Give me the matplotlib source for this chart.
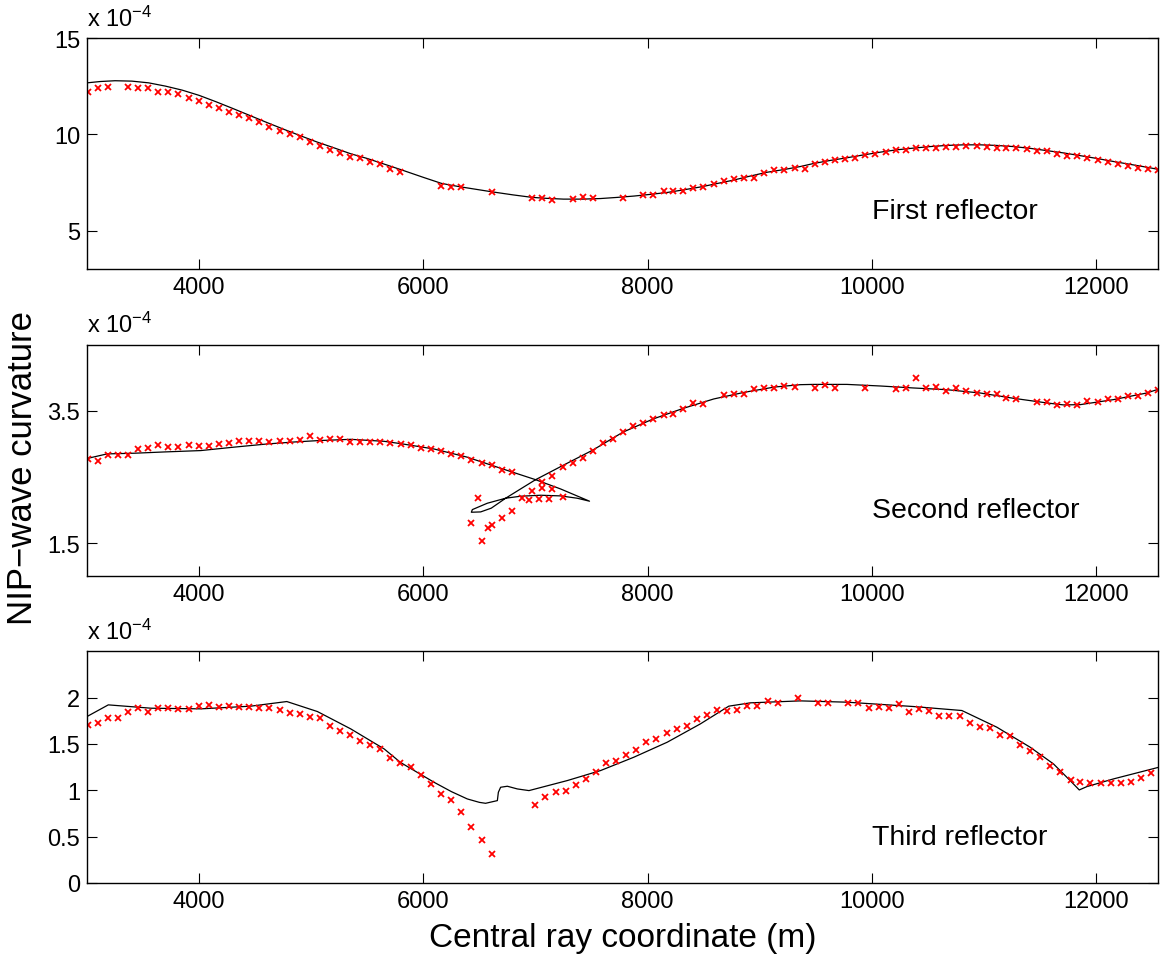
import matplotlib
matplotlib.use("Agg")
import matplotlib.pyplot as plt
from matplotlib.ticker import FuncFormatter

plt.rcParams["font.family"] = ["Liberation Sans", "DejaVu Sans"]
plt.rcParams["mathtext.fontset"] = "custom"
plt.rcParams["mathtext.rm"] = "Liberation Sans"
plt.rcParams["mathtext.it"] = "Liberation Sans"
plt.rcParams["mathtext.default"] = "regular"

# ---------------- data (units of 1e-4) ----------------
# First reflector
p1_mark_x = [3005, 3097, 3186, 3365, 3454, 3543, 3635, 3724, 3816, 3906,
             3997, 4086, 4178, 4267, 4357, 4449, 4538, 4627, 4719, 4808,
             4897, 4989, 5078, 5168, 5257, 5346, 5435, 5524, 5617, 5706, 5795,
             6160, 6250, 6339, 6611, 6971, 7061, 7150, 7331, 7420, 7509,
             7782, 7960, 8050, 8142, 8231, 8320, 8409, 8498, 8590, 8679,
             8768, 8861, 8950, 9042, 9131, 9220, 9312,
             9401, 9490, 9579, 9672, 9761, 9853, 9942, 10031, 10123, 10212,
             10301, 10390, 10483, 10572, 10661, 10753, 10842, 10934, 11023, 11112,
             11201, 11290, 11383, 11472, 11564, 11653, 11742, 11831, 11923, 12016,
             12105, 12194, 12283, 12375, 12464, 12553]
p1_mark_y = [12.22, 12.40, 12.47, 12.48, 12.41, 12.38, 12.21, 12.17, 12.09, 11.90,
             11.74, 11.53, 11.36, 11.15, 11.00, 10.84, 10.62, 10.36, 10.17, 10.00,
             9.84, 9.60, 9.39, 9.20, 9.03, 8.83, 8.79, 8.57, 8.43, 8.22, 8.05,
             7.33, 7.24, 7.27, 6.98, 6.67, 6.69, 6.60, 6.64, 6.72, 6.69,
             6.71, 6.86, 6.86, 7.07, 7.07, 7.07, 7.22, 7.27, 7.43, 7.57,
             7.67, 7.74, 7.74, 8.00, 8.12, 8.12, 8.27,
             8.22, 8.45, 8.55, 8.64, 8.71, 8.79, 8.93, 9.00, 9.09, 9.19,
             9.19, 9.26, 9.26, 9.29, 9.34, 9.34, 9.38, 9.40, 9.34, 9.28,
             9.28, 9.28, 9.24, 9.15, 9.12, 8.96, 8.88, 8.88, 8.76, 8.65,
             8.57, 8.46, 8.36, 8.27, 8.21, 8.16]
p1_line_x = [3000, 3120, 3250, 3400, 3550, 3700, 3850, 4000, 4150, 4300,
             4450, 4600, 4750, 4900, 5050, 5200, 5350, 5500, 5650, 5800,
             6000, 6160, 6250, 6339, 6611, 6800, 6971, 7100, 7250, 7420,
             7580, 7730, 7880, 8030, 8180, 8330, 8480, 8620, 8768, 8910,
             9060, 9220, 9360, 9480, 9630, 9780, 9930, 10076, 10220, 10372,
             10520, 10670, 10820, 10965, 11110, 11262, 11410, 11560, 11710, 11857,
             12010, 12160, 12300, 12450, 12560]
p1_line_y = [12.67, 12.74, 12.78, 12.76, 12.67, 12.50, 12.29, 12.02, 11.69, 11.34,
             10.98, 10.62, 10.27, 9.93, 9.60, 9.30, 8.99, 8.74, 8.45, 8.16,
             7.76, 7.45, 7.35, 7.26, 7.01, 6.85, 6.72, 6.67, 6.63, 6.63,
             6.66, 6.72, 6.79, 6.88, 6.98, 7.12, 7.27, 7.44, 7.62, 7.82,
             8.02, 8.17, 8.32, 8.48, 8.64, 8.78, 8.93, 9.07, 9.19, 9.28,
             9.36, 9.42, 9.45, 9.45, 9.42, 9.36, 9.27, 9.15, 9.03, 8.89,
             8.74, 8.58, 8.44, 8.29, 8.17]

# Second reflector
p2_mark_x = [3005, 3097, 3186, 3276, 3365, 3454, 3543, 3635, 3724, 3816,
             3906, 3997, 4086, 4178, 4267, 4357, 4449, 4538, 4627, 4719,
             4808, 4897, 4989, 5078, 5168, 5257, 5346, 5435, 5524, 5617, 5706,
             5797, 5886, 5979, 6068, 6157, 6250, 6339, 6428, 6520, 6609, 6701, 6790,
             7061, 7150, 7061, 7150, 6971, 6879, 6942, 7031, 7120, 7242,
             6490, 6428, 6520, 6579, 6609, 6701, 6790,
             7242, 7331, 7420, 7509, 7601, 7690, 7782, 7871, 7960, 8050,
             8142, 8231, 8320, 8409, 8498, 8679, 8768, 8861, 8950, 9042,
             9131, 9220, 9312,
             9490, 9583, 9672, 9942, 10212, 10301, 10390, 10483, 10572, 10661,
             10753, 10842, 10934, 11023, 11112, 11201, 11290, 11472, 11564, 11653,
             11742, 11831, 11923, 12013, 12105, 12194, 12283, 12375, 12464, 12553]
p2_mark_y = [2.77, 2.74, 2.84, 2.84, 2.84, 2.93, 2.94, 2.99, 2.96, 2.95,
             2.98, 2.97, 2.97, 3.00, 3.01, 3.05, 3.04, 3.045, 3.035, 3.04,
             3.05, 3.055, 3.12, 3.065, 3.07, 3.08, 3.03, 3.035, 3.025, 3.035, 3.02,
             3.00, 2.98, 2.94, 2.925, 2.894, 2.854, 2.823, 2.76, 2.713, 2.688, 2.60, 2.572,
             2.42, 2.51, 2.34, 2.316, 2.295, 2.184, 2.154, 2.174, 2.174, 2.195,
             2.184, 1.807, 1.54, 1.73, 1.77, 1.88, 1.98,
             2.653, 2.713, 2.79, 2.90, 3.015, 3.075, 3.18, 3.276, 3.31, 3.37,
             3.44, 3.453, 3.53, 3.62, 3.61, 3.74, 3.755, 3.75, 3.83, 3.84,
             3.846, 3.87, 3.86,
             3.84, 3.896, 3.84, 3.85, 3.83, 3.846, 3.997, 3.84, 3.86, 3.80,
             3.84, 3.795, 3.775, 3.75, 3.75, 3.695, 3.68, 3.634, 3.634, 3.584,
             3.60, 3.584, 3.65, 3.64, 3.68, 3.675, 3.73, 3.73, 3.77, 3.82]
p2_line_x = [3000, 3180, 3421, 3700, 4015, 4300, 4608, 4850, 5055, 5352,
             5650, 5797, 6095, 6392, 6689, 7001, 7224, 7482,
             7372, 7224, 7046, 6867, 6734, 6570, 6437, 6428, 6511, 6606,
             6734, 6867, 7001, 7242, 7509, 7782, 8050, 8320, 8590, 8861,
             9131, 9363, 9481, 9778, 10075, 10372, 10670, 10967, 11264, 11561,
             11710, 11858, 12155, 12452, 12560]
p2_line_y = [2.78, 2.85, 2.86, 2.88, 2.90, 2.95, 3.00, 3.03, 3.05, 3.07,
             3.04, 3.005, 2.924, 2.80, 2.633, 2.46, 2.32, 2.135,
             2.18, 2.215, 2.225, 2.21, 2.18, 2.104, 2.008, 1.968, 1.973, 2.03,
             2.18, 2.32, 2.46, 2.673, 2.905, 3.18, 3.378, 3.539, 3.68, 3.78,
             3.86, 3.896, 3.90, 3.90, 3.876, 3.846, 3.82, 3.77, 3.69, 3.62,
             3.59, 3.594, 3.67, 3.77, 3.83]

# Third reflector
p3_mark_x = [3005, 3097, 3186, 3276, 3365, 3454, 3543, 3635, 3724, 3816,
             3906, 3997, 4086, 4178, 4267, 4357, 4449, 4538, 4627, 4719,
             4808, 4897, 4989, 5078, 5168, 5257, 5346, 5435, 5524, 5617, 5706, 5795,
             5886, 5979, 6068, 6157, 6250, 6339, 6428, 6520, 6609,
             6998, 7088, 7180, 7269, 7361, 7450, 7542, 7631, 7720, 7809,
             7901, 7990, 8079, 8171, 8260, 8349, 8439, 8531, 8620, 8709,
             8801, 8890, 8979, 9072, 9161, 9339,
             9521, 9610, 9791, 9880, 9972, 10061, 10150, 10239, 10332, 10421,
             10510, 10602, 10691, 10782, 10872, 10961, 11050, 11143, 11232, 11321,
             11410, 11502, 11591, 11680, 11772, 11861, 11950, 12043, 12132, 12221,
             12310, 12402, 12491]
p3_mark_y = [1.706, 1.728, 1.782, 1.778, 1.847, 1.886, 1.847, 1.886, 1.886, 1.879,
             1.876, 1.908, 1.919, 1.904, 1.911, 1.897, 1.897, 1.886, 1.886, 1.872,
             1.832, 1.828, 1.793, 1.778, 1.692, 1.645, 1.602, 1.533, 1.49, 1.45, 1.346, 1.292,
             1.253, 1.163, 1.073, 0.961, 0.896, 0.767, 0.601, 0.464, 0.313,
             0.839, 0.925, 0.983, 0.997, 1.062, 1.123, 1.195, 1.292, 1.314, 1.382,
             1.44, 1.519, 1.552, 1.62, 1.663, 1.695, 1.768, 1.814, 1.868, 1.854,
             1.872, 1.908, 1.908, 1.962, 1.947, 1.998,
             1.94, 1.94, 1.94, 1.94, 1.886, 1.897, 1.89, 1.926, 1.847, 1.876,
             1.857, 1.803, 1.807, 1.803, 1.724, 1.685, 1.674, 1.598, 1.584, 1.49,
             1.422, 1.364, 1.267, 1.199, 1.112, 1.094, 1.08, 1.083, 1.08, 1.08,
             1.094, 1.134, 1.185]
p3_line_x = [3000, 3190, 3571, 4015, 4461, 4782, 5055, 5352, 5650, 5797,
             6095, 6250, 6392, 6500, 6555, 6660, 6669, 6689, 6749, 6838,
             6942, 7283, 7580, 7877, 8175, 8471, 8724, 8917, 9363, 9778,
             10372, 10803, 11115, 11412, 11620, 11769, 11850, 11918, 12155, 12560]
p3_line_y = [1.796, 1.922, 1.886, 1.879, 1.908, 1.958, 1.85, 1.663, 1.447, 1.30,
             1.087, 0.986, 0.907, 0.87, 0.86, 0.889, 0.979, 1.033, 1.044, 1.015,
             0.997, 1.105, 1.213, 1.357, 1.519, 1.717, 1.908, 1.944, 1.965, 1.951,
             1.904, 1.861, 1.681, 1.465, 1.285, 1.105, 1.004, 1.04, 1.123, 1.249]

x_ticks = [4000, 6000, 8000, 10000, 12000]
panel_labels = ["First reflector", "Second reflector", "Third reflector"]
panel_ylims = [(3, 15), (1, 4.5), (0, 2.5)]
panel_yticks = [[5, 10, 15], [1.5, 3.5], [0, 0.5, 1, 1.5, 2]]
label_y = [6.0, 2.0, 0.5]
scale_label = r"x 10$^{-4}$"
ylabel = "NIP\u2212wave curvature"
xlabel = "Central ray coordinate (m)"

# ---------------- figure ----------------
W, H = 1169, 962
fig = plt.figure(figsize=(W / 100, H / 100), dpi=100)

left = 87 / W
width = (1158.3 - 87) / W
boxes = [(39, 270), (345.7, 577.3), (652.3, 884)]

series = [(p1_line_x, p1_line_y, p1_mark_x, p1_mark_y),
          (p2_line_x, p2_line_y, p2_mark_x, p2_mark_y),
          (p3_line_x, p3_line_y, p3_mark_x, p3_mark_y)]

fmt = FuncFormatter(lambda v, p: "%g" % v)
for i, (top, bot) in enumerate(boxes):
    ax = fig.add_axes([left, 1 - bot / H, width, (bot - top) / H])
    lx, ly, mx, my = series[i]
    ax.plot(lx, ly, color="black", lw=0.9)
    ax.plot(mx, my, ls="none", marker="x", color="red", ms=4.5, mew=1.3)
    ax.set_xlim(3000, 12555)
    ax.set_ylim(*panel_ylims[i])
    ax.set_xticks(x_ticks)
    ax.set_yticks(panel_yticks[i])
    ax.yaxis.set_major_formatter(fmt)
    ax.tick_params(direction="in", top=True, right=True, length=7, width=0.8,
                   labelsize=17, pad=5)
    for s in ax.spines.values():
        s.set_linewidth(1.0)
    ax.text(10000, label_y[i], panel_labels[i], fontsize=20.5, va="center", ha="left")
    ax.annotate(scale_label, xy=(0, 1), xycoords="axes fraction", xytext=(0, 9),
                textcoords="offset points", ha="left", va="baseline", fontsize=17)

fig.text(23 / W, 1 - 468 / H, ylabel, rotation=90, ha="center", va="center", fontsize=25)
fig.text(622.5 / W, 1 - 947 / H, xlabel, ha="center", va="baseline", fontsize=24)

fig.savefig("out.png", dpi=100)
